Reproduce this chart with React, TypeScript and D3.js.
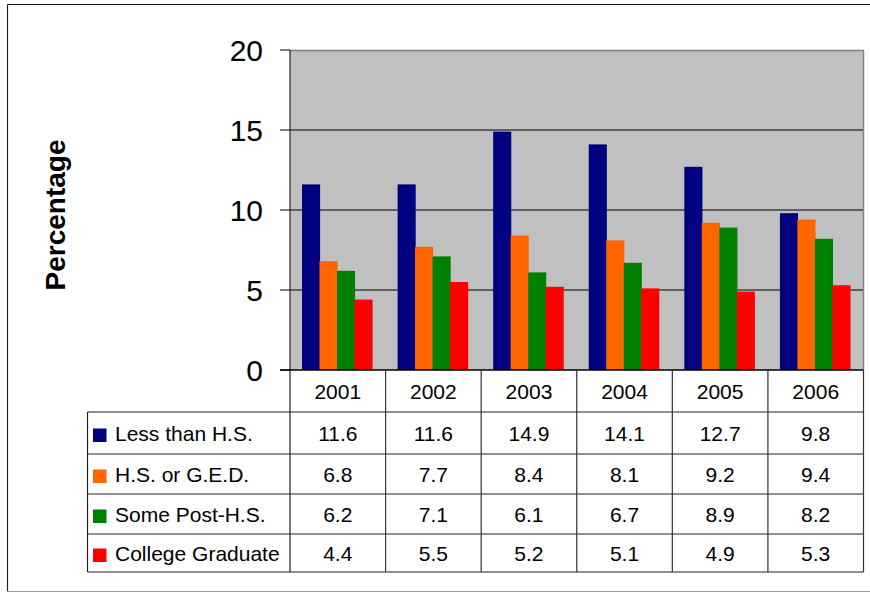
import React from "react";
import * as d3 from "d3";

const years = ["2001", "2002", "2003", "2004", "2005", "2006"];
const seriesNames = ["Less than H.S.", "H.S. or G.E.D.", "Some Post-H.S.", "College Graduate"];
const seriesColors = ["#000080", "#FF6600", "#008000", "#FF0000"];
const lessThanHS = [11.6, 11.6, 14.9, 14.1, 12.7, 9.8];
const hsOrGED = [6.8, 7.7, 8.4, 8.1, 9.2, 9.4];
const somePostHS = [6.2, 7.1, 6.1, 6.7, 8.9, 8.2];
const collegeGrad = [4.4, 5.5, 5.2, 5.1, 4.9, 5.3];
const yTicks = [0, 5, 10, 15, 20];
const yLabel = "Percentage";

const seriesValues = [lessThanHS, hsOrGED, somePostHS, collegeGrad];

export default function App() {
  const W = 870;
  const H = 594;
  const plotL = 290;
  const plotR = 863.5;
  const plotT = 50;
  const plotB = 370;
  const tableL = 87.5;
  const rowEdges = [370, 412, 454, 494, 534, 572];

  const x = d3.scaleBand<string>().domain(years).range([plotL, plotR]).padding(0);
  const y = d3.scaleLinear().domain([0, 20]).range([plotB, plotT]);
  const gw = x.bandwidth();
  const step = gw * 0.183;
  const bw = step + 0.6;
  const start = (gw - (3 * step + bw)) / 2 - 0.5;

  const font = "'Liberation Sans', Arial, sans-serif";

  return (
    <svg
      width={W}
      height={H}
      style={{ position: "absolute", left: 0, top: 0, background: "#fff" }}
      fontFamily={font}
    >
      {/* outer frame */}
      <line x1={7.5} y1={4.5} x2={W} y2={4.5} stroke="#111" strokeWidth={1.2} />
      <line x1={7.5} y1={4.5} x2={7.5} y2={591.5} stroke="#222" strokeWidth={1.2} />
      <line x1={7.5} y1={591.5} x2={W} y2={591.5} stroke="#999" strokeWidth={1.2} />

      {/* plot area */}
      <rect x={plotL} y={plotT} width={plotR - plotL} height={plotB - plotT} fill="#C0C0C0" />
      {yTicks.filter((t) => t > 0 && t < 20).map((t) => (
        <line key={t} x1={plotL} x2={plotR} y1={y(t)} y2={y(t)} stroke="#000" strokeWidth={1} />
      ))}
      <line x1={plotL} x2={plotR} y1={plotT + 0.5} y2={plotT + 0.5} stroke="#808080" strokeWidth={1.5} />
      <line x1={plotR} x2={plotR} y1={plotT} y2={plotB} stroke="#808080" strokeWidth={1.5} />

      {/* bars */}
      {years.map((yr, i) =>
        seriesValues.map((vals, s) => (
          <rect
            key={yr + s}
            x={(x(yr) as number) + start + s * step}
            y={y(vals[i])}
            width={bw}
            height={plotB - y(vals[i])}
            fill={seriesColors[s]}
          />
        ))
      )}

      {/* y axis */}
      <line x1={plotL} x2={plotL} y1={plotT} y2={rowEdges[5]} stroke="#333" strokeWidth={1.3} />
      {yTicks.map((t) => (
        <g key={t}>
          <line x1={280} x2={plotL} y1={y(t)} y2={y(t)} stroke="#000" strokeWidth={1} />
          <text x={263} y={y(t)} textAnchor="end" dominantBaseline="central" fontSize={30} fill="#000">
            {t}
          </text>
        </g>
      ))}
      <text
        transform={`translate(65,${(138 + 292) / 2}) rotate(-90)`}
        textAnchor="middle"
        fontSize={28}
        fontWeight="bold"
        fill="#000"
      >
        {yLabel}
      </text>

      {/* data table */}
      <line x1={280} x2={plotR} y1={plotB} y2={plotB} stroke="#000" strokeWidth={1.3} />
      {rowEdges.slice(1).map((ry) => (
        <line key={ry} x1={tableL} x2={plotR} y1={ry} y2={ry} stroke="#222" strokeWidth={1.2} />
      ))}
      <line x1={tableL} x2={tableL} y1={rowEdges[1]} y2={rowEdges[5]} stroke="#222" strokeWidth={1.2} />
      {years.map((yr) => (
        <line
          key={"sep" + yr}
          x1={(x(yr) as number) + gw}
          x2={(x(yr) as number) + gw}
          y1={plotB}
          y2={rowEdges[5]}
          stroke="#333"
          strokeWidth={1.2}
        />
      ))}
      {years.map((yr) => (
        <text
          key={"h" + yr}
          x={(x(yr) as number) + gw / 2}
          y={(rowEdges[0] + rowEdges[1]) / 2}
          textAnchor="middle"
          dominantBaseline="central"
          fontSize={21}
          fill="#000"
        >
          {yr}
        </text>
      ))}
      {seriesNames.map((name, s) => {
        const cy = (rowEdges[s + 1] + rowEdges[s + 2]) / 2;
        return (
          <g key={name}>
            <rect x={93} y={cy - 4.5} width={13.5} height={13.5} fill={seriesColors[s]} />
            <text x={115} y={cy} dominantBaseline="central" fontSize={21} fill="#000">
              {name}
            </text>
            {years.map((yr, i) => (
              <text
                key={yr}
                x={(x(yr) as number) + gw / 2}
                y={cy}
                textAnchor="middle"
                dominantBaseline="central"
                fontSize={21}
                fill="#000"
              >
                {seriesValues[s][i].toFixed(1)}
              </text>
            ))}
          </g>
        );
      })}
    </svg>
  );
}
